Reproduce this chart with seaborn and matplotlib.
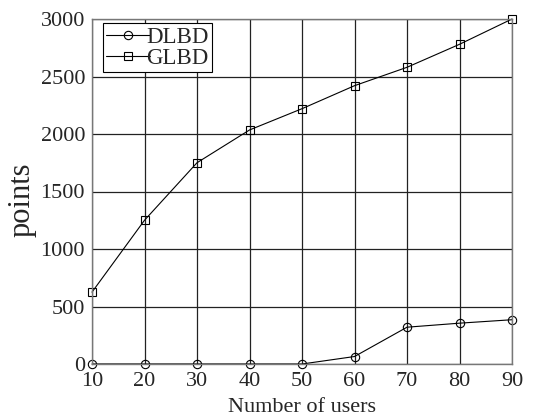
import matplotlib
matplotlib.use("Agg")
import matplotlib.pyplot as plt
import seaborn as sns
import pandas as pd

users = [10, 20, 30, 40, 50, 60, 70, 80, 90]
dlbd = [0, 0, 0, 0, 0, 65, 320, 355, 385]
glbd = [625, 1250, 1750, 2035, 2220, 2420, 2580, 2780, 3000]
series_names = ["DLBD", "GLBD"]
yticks = [0, 500, 1000, 1500, 2000, 2500, 3000]

sns.set_style("white")
plt.rcParams['font.family'] = ['Liberation Serif', 'DejaVu Serif']

df = pd.DataFrame({
    "users": users * 2,
    "points": dlbd + glbd,
    "series": [series_names[0]] * len(users) + [series_names[1]] * len(users),
})

fig = plt.figure(figsize=(5.45, 4.17), dpi=100)
ax = fig.add_axes([92/545, 1 - 364/417, (512-92)/545, (364-19)/417])

sns.lineplot(data=df, x="users", y="points", hue="series", style="series",
             markers={"DLBD": "o", "GLBD": "s"}, dashes=False,
             palette={"DLBD": "black", "GLBD": "black"},
             linewidth=0.8, markersize=6, markerfacecolor="none",
             markeredgecolor="black", markeredgewidth=0.8, ax=ax)

ax.set_xlim(10, 90)
ax.set_ylim(0, 3000)
ax.set_xticks(users)
ax.set_yticks(yticks)
ax.tick_params(axis="both", labelsize=16, length=0)
ax.tick_params(axis="y", pad=5)
ax.tick_params(axis="x", pad=6)
ax.grid(True, color="#222222", linewidth=0.9)
for s in ax.spines.values():
    s.set_color("#777777")
    s.set_linewidth(1.0)
for line in ax.lines:
    line.set_clip_on(False)

ax.set_xlabel("Number of users", fontsize=16, labelpad=5)
ax.set_ylabel("points", fontsize=22)
ax.yaxis.set_label_coords(-0.131, 0.475)

leg = ax.legend(loc="upper left", bbox_to_anchor=(0.026, 0.988), borderaxespad=0,
                fontsize=16.5, frameon=True, fancybox=False,
                edgecolor="black", framealpha=1, handlelength=1.9,
                handletextpad=-0.15, borderpad=0.15, labelspacing=0.0)
leg.get_frame().set_linewidth(0.8)

fig.savefig("out.png", dpi=100)
